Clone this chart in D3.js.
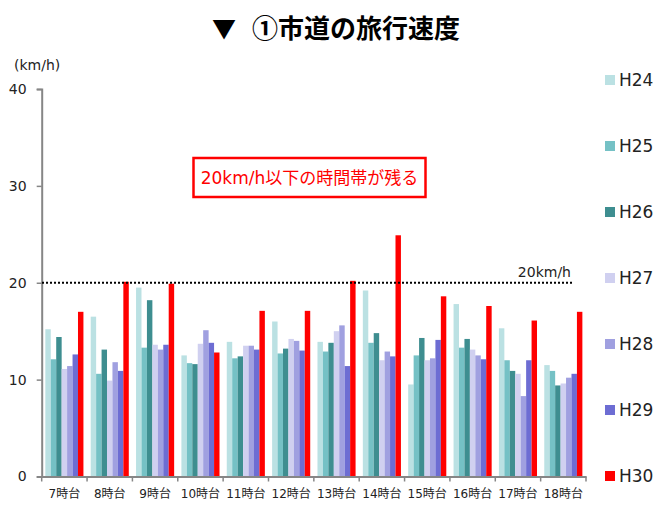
<!DOCTYPE html>
<html><head><meta charset="utf-8">
<script src="https://cdn.jsdelivr.net/npm/d3@7"></script>
<style>
body{margin:0;background:#fff;}
text{font-family:"DejaVu Sans","Noto Sans CJK JP",sans-serif;}
</style></head>
<body><svg id="c" width="663" height="510"></svg>
<script>
const categories = ["7時台","8時台","9時台","10時台","11時台","12時台","13時台","14時台","15時台","16時台","17時台","18時台"];
const seriesNames = ["H24","H25","H26","H27","H28","H29","H30"];
const H24 = [15.2,16.5,19.5,12.5,13.9,16.0,13.9,19.2,9.5,17.8,15.3,11.5];
const H25 = [12.1,10.6,13.3,11.7,12.2,12.7,12.9,13.8,12.5,13.3,12.0,10.9];
const H26 = [14.4,13.1,18.2,11.6,12.4,13.2,13.8,14.8,14.3,14.2,10.9,9.4];
const H27 = [11.1,9.9,13.6,13.7,13.5,14.2,15.0,12.0,12.0,13.1,10.6,9.6];
const H28 = [11.4,11.8,13.1,15.1,13.5,14.0,15.6,12.9,12.2,12.5,8.3,10.2];
const H29 = [12.6,10.9,13.6,13.8,13.1,13.0,11.4,12.4,14.1,12.1,12.0,10.6];
const H30 = [17.0,20.1,19.9,12.8,17.1,17.1,20.2,24.9,18.6,17.6,16.1,17.0];
const yTicks = [0,10,20,30,40];
const colors = ["#bbe1e3","#75c1c5","#3e8e90","#d0d0f0","#a0a0e0","#6d6dd3","#ff0000"];
const seriesValues = [H24,H25,H26,H27,H28,H29,H30];
const threshold = 20;

const svg = d3.select("#c");
const x0 = d3.scaleBand().domain(categories).range([41.7, 586]).padding(0);
const bw = x0.bandwidth();
const x1 = d3.scaleBand().domain(seriesNames).range([bw*0.08, bw*0.92]).padding(0);
const y = d3.scaleLinear().domain([0,40]).range([476.5, 89]);
const color = d3.scaleOrdinal().domain(seriesNames).range(colors);

// title
svg.append("text").attr("x",224).attr("y",38).attr("text-anchor","middle")
  .style("font-family","'Noto Sans CJK JP'").style("font-weight","700").style("font-size","24px").text("▼");
svg.append("text").attr("x",252).attr("y",38)
  .style("font-family","'Noto Sans CJK JP'").style("font-weight","700").style("font-size","26px").text("①市道の旅行速度");

// unit
svg.append("text").attr("x",14).attr("y",70).style("font-size","14px").attr("fill","#222").text("(km/h)");

// bars
const groups = svg.append("g").selectAll("g").data(categories).join("g")
  .attr("transform", d => `translate(${x0(d)},0)`);
groups.selectAll("rect").data((d,i) => seriesNames.map((s,k) => ({s, v: seriesValues[k][i]})))
  .join("rect")
  .attr("x", d => x1(d.s)).attr("width", x1.bandwidth())
  .attr("y", d => y(d.v)).attr("height", d => y(0) - y(d.v))
  .attr("fill", d => color(d.s));

// y axis
const yAxis = svg.append("g").attr("transform","translate(41.7,0)")
  .call(d3.axisLeft(y).tickValues(yTicks).tickSize(5).tickPadding(10));
yAxis.select(".domain").attr("stroke","#868686").attr("stroke-width",2);
yAxis.selectAll(".tick line").attr("stroke","#868686").attr("stroke-width",1.5);
yAxis.selectAll(".tick text").style("font-size","14px").attr("fill","#222")
  .style("font-family","'DejaVu Sans'");

// x axis
const xAxis = svg.append("g").attr("transform",`translate(0,${y(0)})`)
  .call(d3.axisBottom(x0).tickSize(0).tickPadding(13));
xAxis.select(".domain").attr("stroke","#868686").attr("stroke-width",2);
xAxis.selectAll(".tick text").style("font-size","12px").attr("fill","#222");
const bounds = categories.map(c => x0(c)).concat([x0(categories[categories.length-1]) + bw]);
xAxis.selectAll(".bt").data(bounds).join("line").attr("class","bt")
  .attr("x1", d => d).attr("x2", d => d).attr("y1",0).attr("y2",5)
  .attr("stroke","#868686").attr("stroke-width",1.5);

// threshold line
svg.append("line").attr("x1",42).attr("x2",572).attr("y1",y(threshold)).attr("y2",y(threshold))
  .attr("stroke","#000").attr("stroke-width",2).attr("stroke-dasharray","2,2");
svg.append("text").attr("x",571).attr("y",y(threshold)-6).attr("text-anchor","end")
  .style("font-size","14px").attr("fill","#222").text("20km/h");

// annotation
svg.append("rect").attr("x",193.5).attr("y",158).attr("width",232).attr("height",39)
  .attr("fill","#fff").attr("stroke","#ff0000").attr("stroke-width",2.5);
svg.append("text").attr("x",309.5).attr("y",178).attr("text-anchor","middle")
  .attr("dominant-baseline","central").style("font-size","17px").attr("fill","#ff0000")
  .text("20km/h以下の時間帯が残る");

// legend
const leg = svg.append("g").selectAll("g").data(seriesNames).join("g")
  .attr("transform",(d,i) => `translate(605,${75 + i*66})`);
leg.append("rect").attr("width",10).attr("height",10).attr("fill", d => color(d));
leg.append("text").attr("x",14).attr("y",5).attr("dominant-baseline","central")
  .style("font-size","17px").attr("fill","#222").text(d => d);
</script></body></html>
